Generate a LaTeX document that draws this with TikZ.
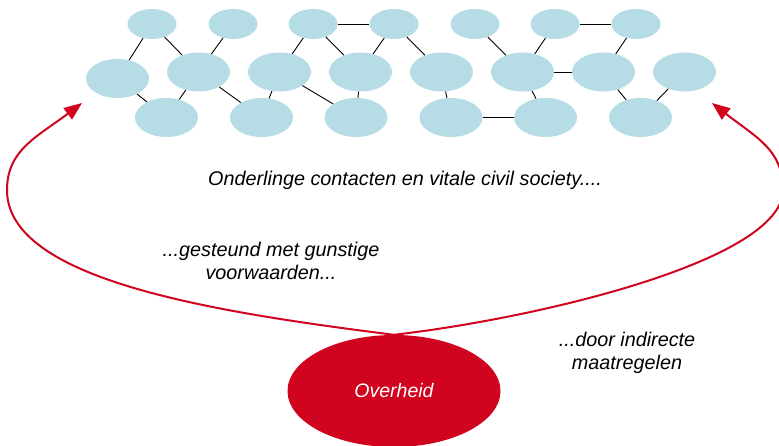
\documentclass[tikz,border=0pt]{standalone}
\usepackage{fontspec}
\setmainfont{Liberation Sans}
\usetikzlibrary{shapes.geometric,arrows.meta}
\definecolor{netblauw}{RGB}{182,220,229}
\definecolor{rood}{RGB}{208,4,30}
\tikzset{
  klein/.style={ellipse,fill=netblauw,minimum width=49pt,minimum height=30pt,inner sep=0pt},
  groot/.style={ellipse,fill=netblauw,minimum width=63pt,minimum height=39pt,inner sep=0pt},
  lijn/.style={line width=0.9pt},
  pijl/.style={rood,line width=2pt,-{Triangle[length=18pt,width=14pt]}},
  tekst/.style={font=\fontsize{19.8}{23.5}\selectfont\itshape,align=center,inner sep=0pt}
}
\begin{document}
\begin{tikzpicture}[x=1pt,y=-1pt]
\useasboundingbox (0,0) rectangle (779,446);

\node[klein] (b1) at (152,24) {};
\node[klein] (b2) at (233,24) {};
\node[klein] (b3) at (313,24) {};
\node[klein] (b4) at (394,24) {};
\node[klein] (b5) at (475,24) {};
\node[klein] (b6) at (555,24) {};
\node[klein] (b7) at (636,24) {};

\node[groot] (m1) at (117.5,78.5) {};
\node[groot] (m2) at (198.5,72) {};
\node[groot] (m3) at (279.5,72) {};
\node[groot] (m4) at (360.5,72) {};
\node[groot] (m5) at (441.5,72) {};
\node[groot] (m6) at (522.5,72) {};
\node[groot] (m7) at (603.5,72) {};
\node[groot] (m8) at (684.5,72) {};

\node[groot] (o1) at (166.5,117.5) {};
\node[groot] (o2) at (261.5,117.5) {};
\node[groot] (o3) at (356,117.5) {};
\node[groot] (o4) at (451,117.5) {};
\node[groot] (o5) at (545.5,117.5) {};
\node[groot] (o6) at (640.5,117.5) {};

\draw[lijn] (b1) -- (m1);
\draw[lijn] (b1) -- (m2);
\draw[lijn] (b2) -- (m2);
\draw[lijn] (b3) -- (m3);
\draw[lijn] (b3) -- (m4);
\draw[lijn] (b3) -- (b4);
\draw[lijn] (b4) -- (m4);
\draw[lijn] (b4) -- (m5);
\draw[lijn] (m1) -- (o1);
\draw[lijn] (m2) -- (o1);
\draw[lijn] (m2) -- (o2);
\draw[lijn] (m3) -- (o2);
\draw[lijn] (m3) -- (o3);
\draw[lijn] (m4) -- (o3);
\draw[lijn] (b5) -- (m6);
\draw[lijn] (b6) -- (m6);
\draw[lijn] (b6) -- (b7);
\draw[lijn] (b7) -- (m7);
\draw[lijn] (m5) -- (o4);
\draw[lijn] (o4) -- (o5);
\draw[lijn] (m6) -- (o5);
\draw[lijn] (m6) -- (m7);
\draw[lijn] (m7) -- (o6);
\draw[lijn] (m8) -- (o6);

\node[ellipse,fill=rood,minimum width=213pt,minimum height=112pt,inner sep=0pt,
  text=white,font=\fontsize{19.5}{23.5}\selectfont\itshape] (ov) at (394,391) {Overheid};

\coordinate (l1) at (7,190);
\coordinate (l2) at (82,103);
\coordinate (r1) at (783,190);
\coordinate (r2) at (712,103);
\draw[pijl] (ov.north) .. controls (213,312) and (7,280) .. (l1)
  .. controls (7,150) and (37,137) .. (l2);
\draw[pijl] (ov.north) .. controls (540,318) and (783,260) .. (r1)
  .. controls (783,150) and (757,138) .. (r2);

\node[tekst,anchor=base] (civil) at (405,186) {Onderlinge contacten en vitale civil society....};
\node[tekst] (steun) at (271,261) {...gesteund met gunstige\\voorwaarden...};
\node[tekst] (maat) at (627,353) {...door indirecte\\maatregelen};
\end{tikzpicture}
\end{document}
